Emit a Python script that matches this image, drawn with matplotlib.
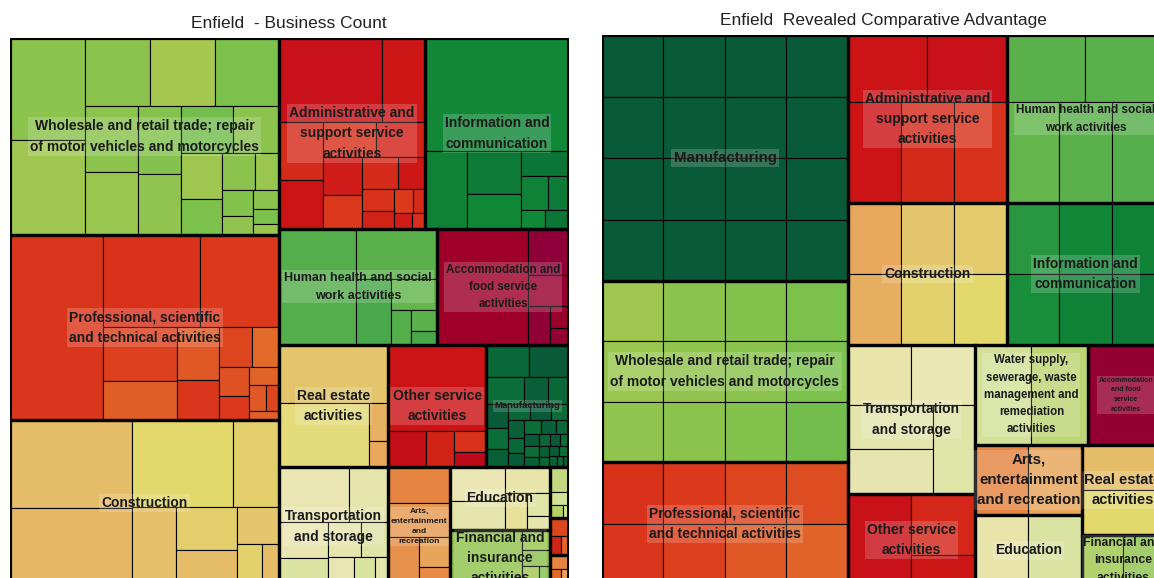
import matplotlib
matplotlib.use("Agg")
import matplotlib.pyplot as plt
from matplotlib.colors import LinearSegmentedColormap
from matplotlib.patches import Rectangle

plt.rcParams['font.family'] = ['Liberation Sans', 'DejaVu Sans']

# ---------------- Business count (left) ----------------
left_sectors = ["Wholesale", "Professional", "Construction", "Admin", "Information",
                "Health", "Accommodation", "Real estate", "Other service", "Manufacturing",
                "Transportation", "Arts", "Education", "Financial",
                "Water supply", "Electricity", "Agriculture"]
left_sizes = [530, 498, 447, 279, 275, 183, 153, 133, 120, 101, 130, 74, 63, 56, 9.7, 7.0, 5.9]
# how the sectors are packed: (orientation, number of sectors in the strip)
left_groups = [("col", 3), ("row", 2), ("row", 2), ("row", 3), ("col", 1), ("col", 1), ("col", 2), ("col", 3)]
left_labels = ["Wholesale and retail trade; repair\nof motor vehicles and motorcycles",
               "Professional, scientific\nand technical activities",
               "Construction",
               "Administrative and\nsupport service\nactivities",
               "Information and\ncommunication",
               "Human health and social\nwork activities",
               "Accommodation and\nfood service\nactivities",
               "Real estate\nactivities",
               "Other service\nactivities",
               "Manufacturing",
               "Transportation\nand storage",
               "Arts,\nentertainment\nand\nrecreation",
               "Education",
               "Financial and\ninsurance\nactivities",
               "", "", ""]
left_fs = [10, 10, 10, 10, 10, 9, 8.3, 10, 10, 6.8, 10, 6.0, 10, 10, 5, 5, 5]
left_sub_sizes = [
    [77, 72, 45, 45, 44, 36, 34, 30, 27, 25, 22, 19, 15, 12, 9, 8, 6, 5, 4, 3],
    [195, 101, 83, 45, 32, 25, 19, 15, 12, 10, 8, 6, 5, 4, 3],
    [123, 109, 99, 46, 40, 30, 25, 18, 12, 8],
    [60, 25, 18, 15, 13, 12, 10, 9, 8, 6, 5, 4, 3, 2, 2, 1.5],
    [70, 14, 10, 8, 5, 4, 3, 2, 2],
    [100, 45, 25, 16, 8, 6, 4],
    [100, 18, 12, 8, 4, 3],
    [52, 48, 6, 4],
    [85, 14, 10, 7, 5],
    [12, 11, 9, 6, 5, 4.5, 4, 3.5, 3, 3, 2.5, 2.5, 2, 2, 2, 1.8, 1.6, 1.5, 1.4, 1.3,
     1.2, 1.1, 1, 1, 0.9, 0.8, 0.8, 0.7, 0.6, 0.6],
    [40, 22, 18, 14, 12, 10, 8, 6, 4],
    [30, 28, 20, 12, 8],
    [35, 30, 22, 15, 10, 6],
    [70, 10, 8, 6, 4],
    [6, 3, 2, 1],
    [5, 3, 2],
    [4, 3, 2],
]
left_sub_colors = [
    [.80, .77, .80, .76, .82, .80, .78, .81, .79, .83, .80, .77, .82, .80, .78, .81, .79, .80, .82, .78],
    [.27, .26, .28, .29, .34, .33, .27, .30, .36, .32, .28, .35, .33, .30, .34],
    [.50, .49, .58, .55, .51, .55, .50, .53, .56, .50],
    [.17, .19, .24, .18, .26, .22, .20, .28, .24, .19, .26, .22, .28, .24, .20, .25],
    [.93, .94, .95, .93, .96, .94, .95, .93, .96],
    [.87, .86, .88, .85, .87, .86, .88],
    [.05, .00, .03, .01, .04, .02],
    [.52, .59, .48, .46],
    [.18, .16, .22, .26, .14],
    [.98, 1.0, .97, .99, .98, 1.0, .97, .99, .98, 1.0, .97, .99, .98, 1.0, .97,
     .99, .98, 1.0, .97, .99, .98, 1.0, .97, .99, .98, 1.0, .97, .99, .98, 1.0],
    [.64, .66, .64, .68, .65, .67, .64, .69, .66],
    [.40, .43, .42, .45, .41],
    [.64, .66, .63, .62, .67, .65],
    [.79, .78, .80, .77, .81],
    [.72, .70, .74, .71],
    [.30, .22, .35],
    [.40, .36, .44],
]

# ---------------- Revealed comparative advantage (right) ----------------
right_sectors = ["Manufacturing", "Wholesale", "Professional", "Admin", "Health",
                 "Construction", "Information", "Transportation", "Other service",
                 "Water supply", "Accommodation", "Arts", "Education", "Real estate", "Financial"]
right_sizes = [605, 445, 305, 267, 264, 226, 223, 189, 117, 113, 76, 75, 76, 74, 42]
right_groups = [("col", 3), ("row", 2), ("row", 2), ("col", 2), ("row", 2), ("col", 2), ("col", 2)]
right_labels = ["Manufacturing",
                "Wholesale and retail trade; repair\nof motor vehicles and motorcycles",
                "Professional, scientific\nand technical activities",
                "Administrative and\nsupport service\nactivities",
                "Human health and social\nwork activities",
                "Construction",
                "Information and\ncommunication",
                "Transportation\nand storage",
                "Other service\nactivities",
                "Water supply,\nsewerage, waste\nmanagement and\nremediation\nactivities",
                "Accommodation\nand food\nservice\nactivities",
                "Arts,\nentertainment\nand recreation",
                "Education",
                "Real estate\nactivities",
                "Financial and\ninsurance\nactivities"]
right_fs = [10.8, 10, 10, 10, 8.5, 10, 10, 10, 10, 8.3, 5, 10.8, 10, 10.5, 8.8]
right_sub_sizes = [
    [1] * 16,
    [1] * 12,
    [1] * 8,
    [1, 1, 1, 1, 1],
    [1, 1, 1, 1, 1],
    [1, 1, 1, 1, 1, 1],
    [1, 1, 1, 1, 1, 1],
    [1, 1, 1, 1, 1],
    [3, 2, 1],
    [1, 1],
    [1],
    [1, 1],
    [1, 1],
    [1, 1],
    [1, 1],
]
right_sub_colors = [
    [1.0] * 16,
    [.77, .78, .79, .80, .79, .80, .81, .82, .80, .81, .82, .83],
    [.26, .27, .28, .29, .30, .31, .33, .35],
    [.18, .17, .18, .24, .26],
    [.86, .86, .85, .86, .87],
    [.46, .47, .53, .54, .56, .58],
    [.91, .92, .93, .94, .94, .95],
    [.63, .64, .66, .65, .67],
    [.17, .23, .19],
    [.70, .73],
    [.02],
    [.40, .45],
    [.63, .68],
    [.50, .58],
    [.77, .79],
]

cmap = LinearSegmentedColormap.from_list("rag", [
    (0.00, "#8E0037"), (0.10, "#B0001C"), (0.18, "#CC1417"), (0.28, "#DC3A1C"),
    (0.36, "#E26A2A"), (0.44, "#E8A058"), (0.52, "#E4C46C"), (0.58, "#E2D86C"),
    (0.64, "#EAE6B4"), (0.70, "#D4E29A"), (0.76, "#A8C850"), (0.82, "#7CC14C"),
    (0.88, "#4CAA4C"), (0.93, "#108A38"), (1.00, "#085A38")])


def worst(row, side):
    s = sum(row)
    return max(max(side * side * r / (s * s), s * s / (side * side * r)) for r in row)


def squarify(values, x, y, w, h):
    total = float(sum(values))
    areas = [v * w * h / total for v in values]
    out = []
    i = 0
    while i < len(areas):
        side = min(w, h)
        row = [areas[i]]
        i += 1
        while i < len(areas) and worst(row + [areas[i]], side) <= worst(row, side):
            row.append(areas[i])
            i += 1
        s = sum(row)
        if w >= h:
            cw = s / h
            yy = y
            for a in row:
                out.append((x, yy, cw, a / cw))
                yy += a / cw
            x += cw
            w -= cw
        else:
            rh = s / w
            xx = x
            for a in row:
                out.append((xx, y, a / rh, rh))
                xx += a / rh
            y += rh
            h -= rh
    return out


def strips(sizes, groups, W, H):
    total = float(sum(sizes))
    areas = [v * W * H / total for v in sizes]
    x, y, w, h = 0.0, 0.0, W, H
    out = []
    i = 0
    for orient, n in groups:
        grp = areas[i:i + n]
        i += n
        s = sum(grp)
        if orient == "col":
            cw = s / h
            yy = y
            for a in grp:
                out.append((x, yy, cw, a / cw))
                yy += a / cw
            x += cw
            w -= cw
        else:
            rh = s / w
            xx = x
            for a in grp:
                out.append((xx, y, a / rh, rh))
                xx += a / rh
            y += rh
            h -= rh
    return out


def draw_treemap(ax, W, H, sizes, groups, subs, subcols, labels, fsizes):
    rects = strips(sizes, groups, W, H)
    for k, (x, y, w, h) in enumerate(rects):
        cells = squarify(subs[k], x, y, w, h)
        for j, (cx, cy, cw, ch) in enumerate(cells):
            c = subcols[k][j % len(subcols[k])]
            ax.add_patch(Rectangle((cx, cy), cw, ch, facecolor=cmap(c),
                                   edgecolor="black", lw=0.8, zorder=1))
        ax.add_patch(Rectangle((x, y), w, h, fill=False, edgecolor="black",
                               lw=2.3, zorder=3))
        if labels[k]:
            ax.text(x + w / 2, y + h / 2, labels[k], ha="center", va="center",
                    fontsize=fsizes[k], fontweight="bold", color="#1a1a1a",
                    linespacing=1.58, zorder=4,
                    bbox=dict(boxstyle="square,pad=0.15", fc="white", alpha=0.18, ec="none"))
    ax.add_patch(Rectangle((0, 0), W, H, fill=False, edgecolor="black", lw=2.8, zorder=5))
    ax.set_xlim(0, W)
    ax.set_ylim(H, 0)
    ax.axis("off")


fig = plt.figure(figsize=(11.54, 5.78), dpi=100)
FW, FH = 1154.0, 578.0

# left frame: 559 x 548 px, right frame: 562 x 551 px
ax1 = fig.add_axes([10 / FW, (FH - 586) / FH, 559 / FW, 548 / FH])
draw_treemap(ax1, 559, 548, left_sizes, left_groups, left_sub_sizes, left_sub_colors,
             left_labels, left_fs)

ax2 = fig.add_axes([602 / FW, (FH - 586) / FH, 562 / FW, 551 / FH])
draw_treemap(ax2, 562, 551, right_sizes, right_groups, right_sub_sizes, right_sub_colors,
             right_labels, right_fs)

fig.text(289 / FW, 1 - 24 / FH, "Enfield  - Business Count", ha="center", va="center",
         fontsize=12.5, color="#222222")
fig.text(883 / FW, 1 - 21 / FH, "Enfield  Revealed Comparative Advantage", ha="center",
         va="center", fontsize=12.5, color="#222222")

fig.savefig("out.png", dpi=100)
